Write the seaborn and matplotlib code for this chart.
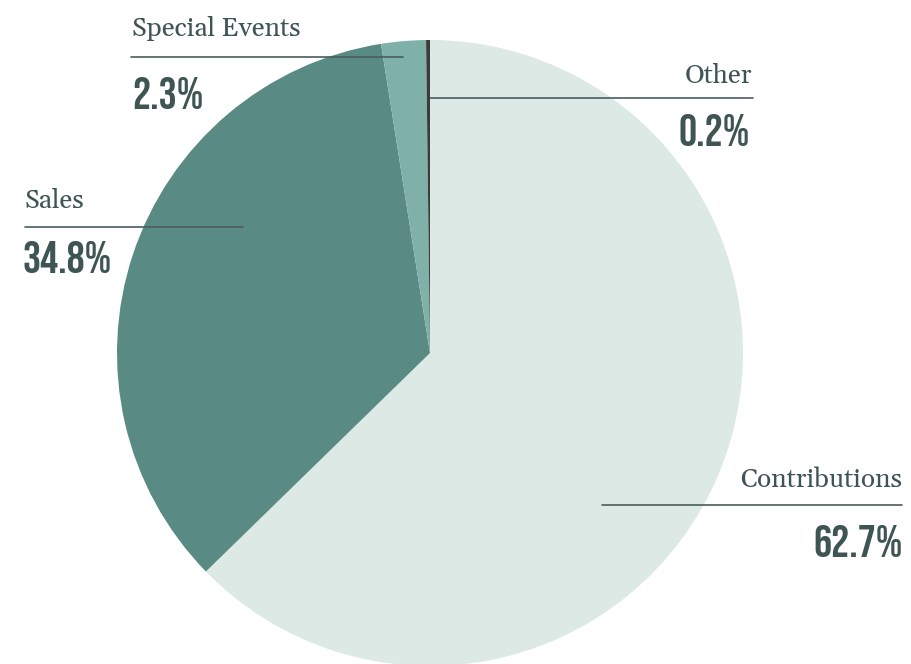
import matplotlib.pyplot as plt
import seaborn as sns

sns.set_theme(style="white")

# revenue sources, in the drawing order (clockwise from 12 o'clock)
sources = ["Contributions", "Sales", "Special Events", "Other"]
shares = [62.7, 34.8, 2.3, 0.2]
colors = ["#dce9e4", "#5a8a84", "#80b1a9", "#3b3b3b"]

ink = "#3e5553"
W, H = 911, 664

fig = plt.figure(figsize=(W / 100, H / 100), dpi=100)
ax = fig.add_axes([0, 0, 1, 1])

ax.pie(shares, colors=colors, startangle=90, counterclock=False,
       center=(430, H - 353), radius=313, frame=True,
       wedgeprops=dict(linewidth=0))
ax.set_xlim(0, W)
ax.set_ylim(0, H)
ax.set_aspect("equal")
ax.axis("off")

name_font = ["Gelasio", "Liberation Serif", "DejaVu Serif"]
pct_font = ["Bebas Neue", "DejaVu Sans"]

# label layout in pixels from the top-left:
# name x / pct x, align, name baseline, rule y, rule x0, rule x1, pct baseline
layout = {
    "Special Events": (132, 132, "left", 36, 57, 131, 403, 109),
    "Other": (752, 750, "right", 83, 98, 430, 753, 146),
    "Sales": (25, 23, "left", 208, 227, 25, 243, 273),
    "Contributions": (902, 903, "right", 487, 505, 602, 902, 557),
}

for name, share in zip(sources, shares):
    nx, px, ha, ny, ly, x0, x1, py = layout[name]
    ax.text(nx, H - ny, name, ha=ha, va="baseline", fontsize=19,
            family=name_font, color=ink)
    ax.plot([x0, x1], [H - ly, H - ly], color="#4a5d5c", lw=1.2)
    ax.text(px, H - py, f"{share:.1f}%", ha=ha, va="baseline", fontsize=32.5,
            family=pct_font, color=ink)

fig.savefig("out.png", dpi=100)
